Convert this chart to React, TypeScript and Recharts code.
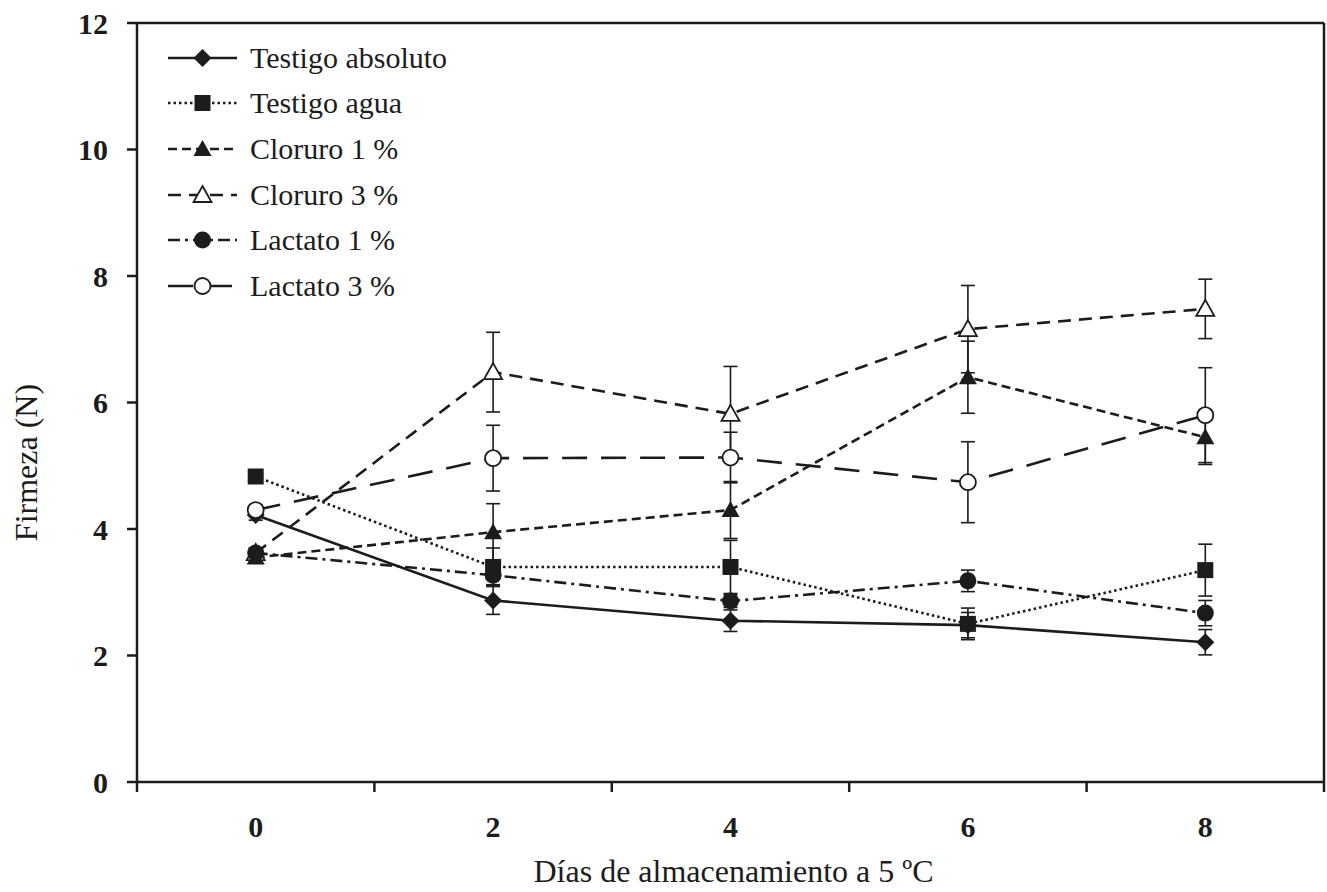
import { LineChart, Line, XAxis, YAxis, ErrorBar, Legend, ReferenceLine } from 'recharts'

const INK = '#1c1c1c'
const FONT = '"Liberation Serif", "Times New Roman", serif'

// días de almacenamiento
const DAYS = [0, 2, 4, 6, 8]

// firmeza (N), media y error
const TESTIGO_ABSOLUTO = [4.22, 2.87, 2.55, 2.48, 2.21]
const TESTIGO_ABSOLUTO_ERR = [0.08, 0.22, 0.17, 0.2, 0.2]
const TESTIGO_AGUA = [4.83, 3.4, 3.4, 2.5, 3.35]
const TESTIGO_AGUA_ERR = [0.08, 0.3, 0.42, 0.25, 0.41]
const CLORURO_1 = [3.55, 3.95, 4.3, 6.4, 5.45]
const CLORURO_1_ERR = [0.08, 0.45, 0.45, 0.57, 0.43]
const CLORURO_3 = [3.62, 6.48, 5.82, 7.16, 7.48]
const CLORURO_3_ERR = [0.08, 0.63, 0.75, 0.69, 0.47]
const LACTATO_1 = [3.62, 3.27, 2.86, 3.18, 2.67]
const LACTATO_1_ERR = [0.08, 0.15, 0.1, 0.17, 0.2]
const LACTATO_3 = [4.3, 5.12, 5.13, 4.74, 5.8]
const LACTATO_3_ERR = [0.08, 0.52, 0.4, 0.64, 0.75]

const X_TICKS = [-1, 0, 1, 2, 3, 4, 5, 6, 7, 8, 9]
const Y_TICKS = [0, 2, 4, 6, 8, 10, 12]
const X_TITLE = 'Días de almacenamiento a 5 ºC'
const Y_TITLE = 'Firmeza (N)'

const data = DAYS.map((day, i) => ({
  day,
  tabs: TESTIGO_ABSOLUTO[i],
  tabsErr: TESTIGO_ABSOLUTO_ERR[i],
  tagua: TESTIGO_AGUA[i],
  taguaErr: TESTIGO_AGUA_ERR[i],
  cl1: CLORURO_1[i],
  cl1Err: CLORURO_1_ERR[i],
  cl3: CLORURO_3[i],
  cl3Err: CLORURO_3_ERR[i],
  lac1: LACTATO_1[i],
  lac1Err: LACTATO_1_ERR[i],
  lac3: LACTATO_3[i],
  lac3Err: LACTATO_3_ERR[i],
}))

type Shape = 'diamond' | 'square' | 'triangle' | 'triangleOpen' | 'circle' | 'circleOpen'

const SERIES: { key: string; name: string; dash?: string; shape: Shape }[] = [
  { key: 'tabs', name: 'Testigo absoluto', shape: 'diamond' },
  { key: 'tagua', name: 'Testigo agua', dash: '2.5 3', shape: 'square' },
  { key: 'cl1', name: 'Cloruro 1 %', dash: '9 5', shape: 'triangle' },
  { key: 'cl3', name: 'Cloruro 3 %', dash: '13 8', shape: 'triangleOpen' },
  { key: 'lac1', name: 'Lactato 1 %', dash: '12 5 3 5', shape: 'circle' },
  { key: 'lac3', name: 'Lactato 3 %', dash: '25 14', shape: 'circleOpen' },
]

function Marker({ shape, cx, cy }: { shape: Shape; cx: number; cy: number }) {
  if (cx == null || cy == null) return null
  switch (shape) {
    case 'diamond':
      return <polygon points={`${cx},${cy - 9} ${cx + 9},${cy} ${cx},${cy + 9} ${cx - 9},${cy}`} fill={INK} />
    case 'square':
      return <rect x={cx - 8} y={cy - 8} width={16} height={16} fill={INK} />
    case 'triangle':
      return <polygon points={`${cx},${cy - 9} ${cx + 9},${cy + 7} ${cx - 9},${cy + 7}`} fill={INK} />
    case 'triangleOpen':
      return (
        <polygon
          points={`${cx},${cy - 9} ${cx + 9},${cy + 7} ${cx - 9},${cy + 7}`}
          fill="#fff"
          stroke={INK}
          strokeWidth={1.8}
        />
      )
    case 'circle':
      return <circle cx={cx} cy={cy} r={8.5} fill={INK} />
    case 'circleOpen':
      return <circle cx={cx} cy={cy} r={8} fill="#fff" stroke={INK} strokeWidth={1.8} />
  }
  return null
}

function XTick({ x, y, payload }: any) {
  const v = payload.value
  if (Math.abs(v % 2) === 1) {
    return <line x1={x} y1={y} x2={x} y2={y + 10} stroke={INK} strokeWidth={2.5} />
  }
  return (
    <text x={x} y={y + 55} textAnchor="middle" fontSize={30} fontWeight="bold" fontFamily={FONT} fill={INK}>
      {v}
    </text>
  )
}

function LegendBox() {
  return (
    <div style={{ fontFamily: FONT, fontSize: 30, color: INK }}>
      {SERIES.map((s) => (
        <div key={s.key} style={{ display: 'flex', alignItems: 'center', height: 45.6 }}>
          <svg width={80} height={40} style={{ marginRight: 10 }}>
            <line x1={8} y1={20} x2={77} y2={20} stroke={INK} strokeWidth={2.5} strokeDasharray={s.dash} />
            <Marker shape={s.shape} cx={42.5} cy={20} />
          </svg>
          <span>{s.name}</span>
        </div>
      ))}
    </div>
  )
}

export default function App() {
  return (
    <div style={{ position: 'absolute', left: 0, top: 0 }}>
      <LineChart width={1327} height={892} data={data} margin={{ top: 23, right: 3, bottom: 0, left: 0 }}>
        <XAxis
          dataKey="day"
          type="number"
          domain={[-1, 9]}
          ticks={X_TICKS}
          interval={0}
          height={110}
          tickSize={0}
          tickMargin={0}
          tickLine={false}
          tick={<XTick />}
          axisLine={{ stroke: INK, strokeWidth: 2.5 }}
          label={{
            content: ({ viewBox }: any) => (
              <text
                x={viewBox.x + viewBox.width / 2 + 3}
                y={viewBox.y + 100}
                textAnchor="middle"
                fontSize={32}
                fontFamily={FONT}
                fill={INK}
              >
                {X_TITLE}
              </text>
            ),
          }}
        />
        <YAxis
          type="number"
          domain={[0, 12]}
          ticks={Y_TICKS}
          interval={0}
          width={137}
          tickSize={10}
          tickMargin={19}
          tickLine={{ stroke: INK, strokeWidth: 2.5 }}
          axisLine={{ stroke: INK, strokeWidth: 2.5 }}
          tick={{ fontSize: 30, fontWeight: 'bold', fontFamily: FONT, fill: INK }}
          label={{
            content: ({ viewBox }: any) => {
              const x = viewBox.x + 37
              const y = viewBox.y + viewBox.height / 2 + 60
              return (
                <text
                  x={x}
                  y={y}
                  transform={`rotate(-90 ${x} ${y})`}
                  textAnchor="middle"
                  fontSize={32}
                  fontFamily={FONT}
                  fill={INK}
                >
                  {Y_TITLE}
                </text>
              )
            },
          }}
        />
        <ReferenceLine y={12} stroke={INK} strokeWidth={2.5} />
        <ReferenceLine x={9} stroke={INK} strokeWidth={2.5} />
        <Legend
          layout="vertical"
          align="center"
          verticalAlign="middle"
          wrapperStyle={{ left: 160, top: 35, width: 340 }}
          content={() => <LegendBox />}
        />
        {SERIES.map((s) => (
          <Line
            key={s.key}
            dataKey={s.key}
            name={s.name}
            type="linear"
            stroke={INK}
            strokeWidth={2.6}
            strokeDasharray={s.dash}
            isAnimationActive={false}
            dot={(p: any) => <Marker key={`${s.key}-${p.index}`} shape={s.shape} cx={p.cx} cy={p.cy} />}
            activeDot={false}
          >
            <ErrorBar
              dataKey={`${s.key}Err`}
              width={7}
              stroke={INK}
              strokeWidth={1.6}
              direction="y"
              isAnimationActive={false}
            />
          </Line>
        ))}
      </LineChart>
    </div>
  )
}
